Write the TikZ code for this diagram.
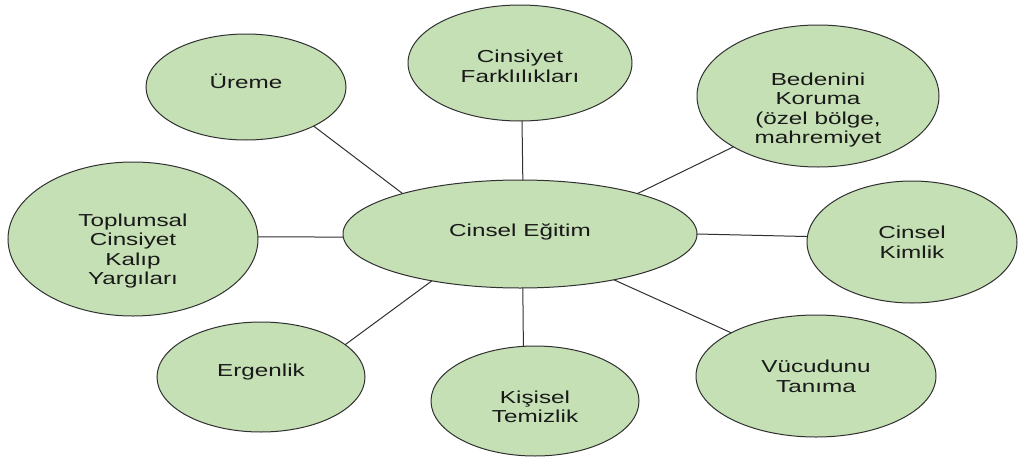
\documentclass[tikz,border=0pt]{standalone}
\usepackage{fontspec}
\setmainfont[FakeStretch=1.4]{Liberation Sans}
\usetikzlibrary{shapes}
\definecolor{bubblefill}{HTML}{C5E0B4}
\definecolor{bubbleline}{HTML}{303030}
\newcommand\Bubbletext[2]{%
  \raisebox{#1}[0pt][0pt]{\begin{tabular}{@{}c@{}}#2\end{tabular}}}

\begin{document}
\begin{tikzpicture}[x=0.75pt, y=-0.75pt,
bubble/.style={
  ellipse, draw=bubbleline, line width=0.75pt,
  fill=bubblefill,
  inner sep=0pt, outer sep=0pt,
  font=\fontsize{13}{14.5}\selectfont,
  text=black!90
},
bubble size/.style 2 args={minimum width=0.75pt*#1, minimum height=0.75pt*#2},
link/.style={draw=bubbleline, line width=0.75pt}]
\useasboundingbox (0,0) rectangle (1018,457);

\node (egitim) [bubble, bubble size={354}{108}] at (520,234) {\Bubbletext{-2pt}{Cinsel Eğitim}};
\node (ureme) [bubble, bubble size={200}{106}] at (246,87) {\Bubbletext{-0.9pt}{Üreme}};
\node (farklilik) [bubble, bubble size={224}{116}] at (520,63) {\Bubbletext{-7.2pt}{Cinsiyet\\Farklılıkları}};
\node (koruma) [bubble, bubble size={242}{142}] at (818,96) {\Bubbletext{-14pt}{Bedenini\\Koruma\\(özel bölge,\\mahremiyet}};
\node (kalip) [bubble, bubble size={250}{154}] at (133,239) {\Bubbletext{-12.5pt}{Toplumsal\\Cinsiyet\\Kalıp\\Yargıları}};
\node (kimlik) [bubble, bubble size={210}{122}] at (912,242) {\Bubbletext{-5pt}{Cinsel\\Kimlik}};
\node (ergenlik) [bubble, bubble size={208}{110}] at (261,377) {\Bubbletext{0pt}{Ergenlik}};
\node (temizlik) [bubble, bubble size={208}{110}] at (535,401) {\Bubbletext{-9pt}{Kişisel\\Temizlik}};
\node (tanima) [bubble, bubble size={240}{122}] at (816,376) {\Bubbletext{-5pt}{Vücudunu\\Tanıma}};

\draw [link] (ureme.-30) -- (egitim.161);
\draw [link] (farklilik.-88) -- (egitim.87);
\draw [link] (koruma.-149) -- (egitim.19);
\draw [link] (kalip.1) -- (egitim.181);
\draw [link] (egitim.-0.6) -- (kimlik.177);
\draw [link] (ergenlik.21) -- (egitim.208);
\draw [link] (egitim.-87) -- (temizlik.102);
\draw [link] (egitim.-26.5) -- (tanima.153);
\end{tikzpicture}
\end{document}
